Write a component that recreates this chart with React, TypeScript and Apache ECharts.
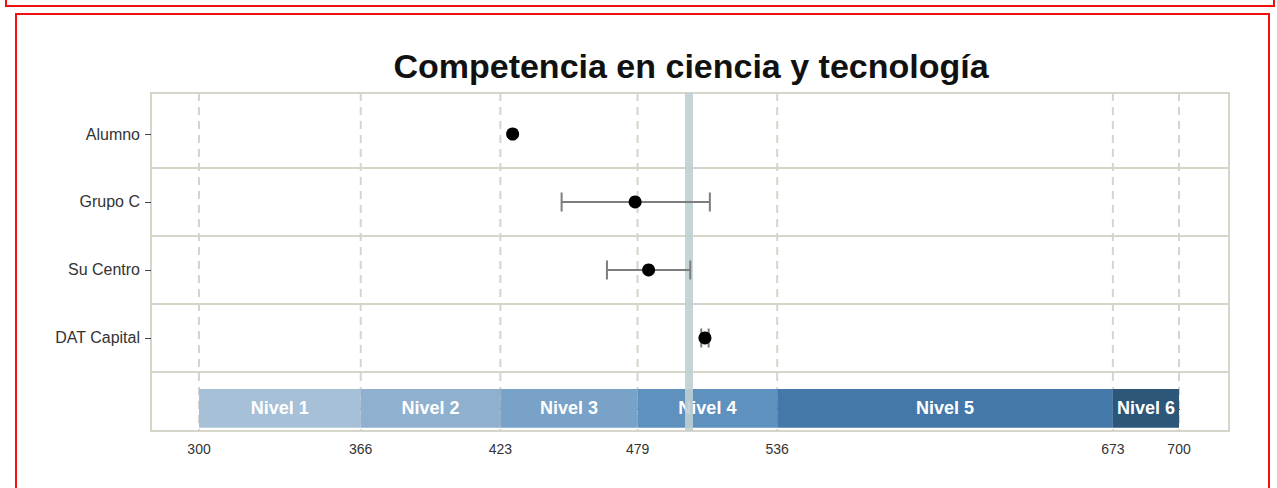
import React, { useEffect, useRef } from "react";
import * as echarts from "echarts";

const title = "Competencia en ciencia y tecnología";
const groups = ["DAT Capital", "Su Centro", "Grupo C", "Alumno"]; // y = 1..4
const means = [506.5, 483.5, 478, 428];
const lows = [505, 466.5, 448, null];
const highs = [508, 500.5, 508.5, null];
const refValue = 500;

const levelNames = ["Nivel 1", "Nivel 2", "Nivel 3", "Nivel 4", "Nivel 5", "Nivel 6"];
const levelStarts = [300, 366, 423, 479, 536, 673];
const levelEnds = [366, 423, 479, 536, 673, 700];
const levelColors = ["#a6c0d8", "#90b0cf", "#78a2c8", "#5f91bf", "#4478a8", "#2d5778"];
const xTicks = [300, 366, 423, 479, 536, 673, 700];
const rowSeparators = [0.5, 1.5, 2.5, 3.5];

const FONT = "'Liberation Sans', Arial, Helvetica, sans-serif";
const GRID_COLOR = "#d5d5ca";

export default function App() {
  const ref = useRef<HTMLDivElement>(null);
  useEffect(() => {
    if (!ref.current) return;
    const chart = echarts.init(ref.current, undefined, { renderer: "svg" });

    const bandData = levelNames.map((n, i) => [levelStarts[i], levelEnds[i], i]);
    const errData = groups
      .map((g, i) => [i + 1, lows[i], highs[i]])
      .filter((d) => d[1] != null);
    const pointData = groups.map((g, i) => [means[i], i + 1]);

    const vLine = (dash: number[] | null, width: number, color: string, opacity = 1) =>
      (params: any, api: any) => {
        const cs = params.coordSys;
        const x = api.coord([api.value(0), 0])[0];
        return {
          type: "line",
          shape: { x1: x, y1: cs.y, x2: x, y2: cs.y + cs.height },
          style: { stroke: color, lineWidth: width, lineDash: dash || undefined, opacity },
        };
      };

    chart.setOption({
      animation: false,
      textStyle: { fontFamily: FONT },
      title: {
        text: title,
        left: 686,
        textAlign: "center",
        top: 44,
        textStyle: { fontSize: 34, fontWeight: "bold", color: "#111", fontFamily: FONT },
      },
      graphic: [
        {
          type: "rect",
          shape: { x: 6, y: -20, width: 1268, height: 26 },
          style: { fill: "none", stroke: "#f01010", lineWidth: 2 },
          silent: true,
        },
        {
          type: "rect",
          shape: { x: 16, y: 14, width: 1253, height: 520 },
          style: { fill: "none", stroke: "#f01010", lineWidth: 2 },
          silent: true,
        },
      ],
      grid: {
        left: 151,
        right: 48,
        top: 93,
        bottom: 57,
        show: true,
        borderColor: GRID_COLOR,
        borderWidth: 2,
        backgroundColor: "#fff",
      },
      xAxis: {
        type: "value",
        min: 280.4,
        max: 720.4,
        axisLine: { show: false },
        splitLine: { show: false },
        axisTick: { show: true, customValues: xTicks, length: 4, lineStyle: { color: "#444" } },
        axisLabel: {
          customValues: xTicks,
          fontSize: 14,
          color: "#333",
          margin: 11,
          fontFamily: FONT,
        },
      },
      yAxis: {
        type: "value",
        min: -0.368,
        max: 4.603,
        axisLine: { show: false },
        splitLine: { show: false },
        axisTick: { show: true, customValues: [1, 2, 3, 4], length: 6, lineStyle: { color: "#444" } },
        axisLabel: {
          customValues: [1, 2, 3, 4],
          formatter: (v: number) => groups[Math.round(v) - 1] ?? "",
          fontSize: 16,
          color: "#333",
          margin: 11,
          fontFamily: FONT,
        },
      },
      series: [
        {
          type: "custom",
          z: 1,
          silent: true,
          data: xTicks.map((v) => [v]),
          renderItem: vLine([8, 6], 2, GRID_COLOR),
        },
        {
          type: "custom",
          z: 1,
          silent: true,
          data: rowSeparators.map((v) => [v]),
          renderItem: (params: any, api: any) => {
            const cs = params.coordSys;
            const y = api.coord([300, api.value(0)])[1];
            return {
              type: "line",
              shape: { x1: cs.x, y1: y, x2: cs.x + cs.width, y2: y },
              style: { stroke: GRID_COLOR, lineWidth: 2 },
            };
          },
        },
        {
          type: "custom",
          z: 2,
          silent: true,
          data: bandData,
          renderItem: (params: any, api: any) => {
            const x0 = api.value(0);
            const x1 = api.value(1);
            const idx = api.value(2);
            const p0 = api.coord([x0, 0.25]);
            const p1 = api.coord([x1, -0.32]);
            return {
              type: "group",
              children: [
                {
                  type: "rect",
                  shape: { x: p0[0], y: p0[1], width: p1[0] - p0[0], height: p1[1] - p0[1] },
                  style: { fill: levelColors[idx] },
                },
                {
                  type: "text",
                  style: {
                    text: levelNames[idx],
                    x: (p0[0] + p1[0]) / 2,
                    y: (p0[1] + p1[1]) / 2,
                    align: "center",
                    verticalAlign: "middle",
                    fill: "#fff",
                    font: `bold 18px ${FONT}`,
                  },
                },
              ],
            };
          },
        },
        {
          type: "custom",
          z: 3,
          silent: true,
          data: [[refValue]],
          renderItem: vLine(null, 8, "#bfcfd3", 0.9),
        },
        {
          type: "custom",
          z: 4,
          silent: true,
          data: errData,
          renderItem: (params: any, api: any) => {
            const y = api.value(0);
            const lo = api.coord([api.value(1), y]);
            const hi = api.coord([api.value(2), y]);
            const h = 9.5;
            const st = { stroke: "#7d7d7d", lineWidth: 2 };
            return {
              type: "group",
              children: [
                { type: "line", shape: { x1: lo[0], y1: lo[1], x2: hi[0], y2: hi[1] }, style: st },
                { type: "line", shape: { x1: lo[0], y1: lo[1] - h, x2: lo[0], y2: lo[1] + h }, style: st },
                { type: "line", shape: { x1: hi[0], y1: hi[1] - h, x2: hi[0], y2: hi[1] + h }, style: st },
              ],
            };
          },
        },
        {
          type: "scatter",
          z: 5,
          silent: true,
          symbol: "circle",
          symbolSize: 13,
          itemStyle: { color: "#000", opacity: 1 },
          data: pointData,
        },
      ],
    });
    return () => chart.dispose();
  }, []);

  return (
    <div
      ref={ref}
      style={{ position: "fixed", left: 0, top: 0, width: 1277, height: 488, background: "#fff" }}
    />
  );
}
